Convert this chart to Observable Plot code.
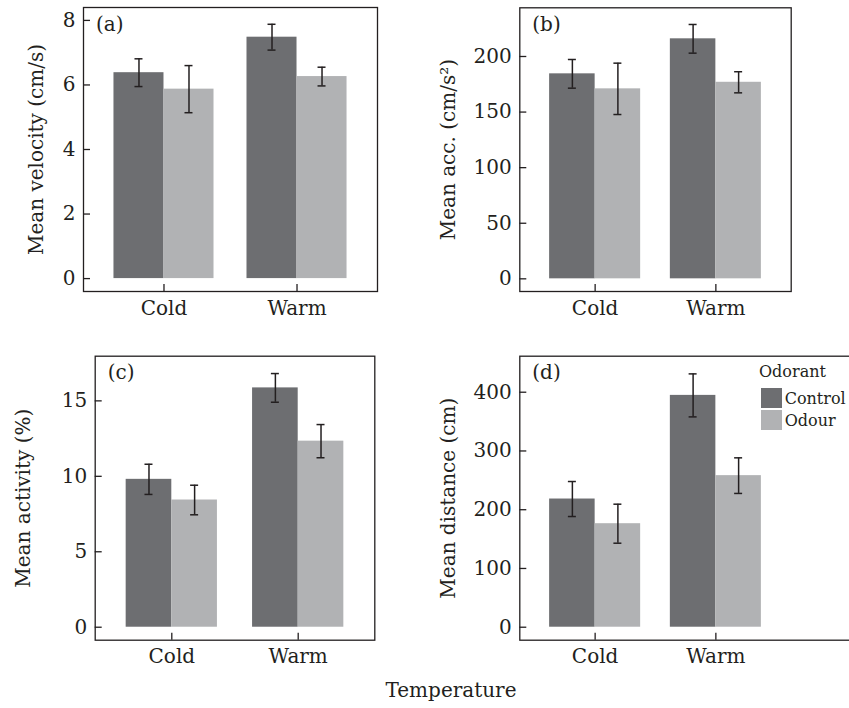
<!DOCTYPE html>
<html>
<head>
<meta charset="utf-8">
<script src="https://cdn.jsdelivr.net/npm/d3@7"></script>
<script src="https://cdn.jsdelivr.net/npm/@observablehq/plot@0.6"></script>
<style>
  html, body { margin: 0; padding: 0; background: #fff; overflow: hidden; width: 849px; height: 708px; }
  #wrap { position: relative; width: 849px; height: 708px; font-family: "DejaVu Serif", serif; color: #231f20; overflow: hidden; }
  .panel { position: absolute; }
  #legend { position: absolute; left: 759px; top: 361.5px; font-size: 16px; line-height: 20px; }
  #legend .row { display: flex; align-items: center; height: 22.3px; }
  #legend .row.first { margin-top: 5px; }
  #legend .row span { position: relative; top: 1px; }
  #legend .sw { width: 20.7px; height: 20px; margin-left: 2px; margin-right: 3px; }
  #caption { position: absolute; left: 351px; width: 200px; top: 677.8px; text-align: center; font-size: 20px; line-height: 24px; }
</style>
</head>
<body>
<div id="wrap"></div>
<script>
// ---- data ----
const temperatures = ["Cold", "Warm"];
const odorants = ["Control", "Odour"];
const odorantColors = ["#6d6e71", "#b1b2b4"];
const legendTitle = "Odorant";
const xTitle = "Temperature";

// order: Cold-Control, Cold-Odour, Warm-Control, Warm-Odour
const velocityMean = [6.38, 5.87, 7.48, 6.26];
const velocitySE   = [0.43, 0.73, 0.40, 0.29];
const velocityTicks = [0, 2, 4, 6, 8];

const accMean = [184.4, 170.9, 215.9, 176.8];
const accSE   = [12.9, 23.1, 12.9, 9.5];
const accTicks = [0, 50, 100, 150, 200];

const activityMean = [9.8, 8.43, 15.86, 12.33];
const activitySE   = [1.0, 0.98, 0.95, 1.1];
const activityTicks = [0, 5, 10, 15];

const distanceMean = [218.2, 176.2, 394.6, 258.0];
const distanceSE   = [29.8, 33.2, 36.6, 30.3];
const distanceTicks = [0, 100, 200, 300, 400];

// ---- panels ----
const ink = "#231f20";
const panels = [
  {letter: "(a)", label: "Mean velocity (cm/s)", means: velocityMean, ses: velocitySE, ticks: velocityTicks, yDomain: [-0.4, 8.4],
   left: 0, top: 0, width: 420, height: 330, mL: 83, mR: 43, mT: 7, mB: 39, pi: 0.248, po: 0.229, labelOffset: 55},
  {letter: "(b)", label: "Mean acc. (cm/s²)", means: accMean, ses: accSE, ticks: accTicks, yDomain: [-11.4, 243.8],
   left: 420, top: 0, width: 429, height: 330, mL: 99.3, mR: 58.3, mT: 7.3, mB: 39, pi: 0.246, po: 0.247, labelOffset: 79.3},
  {letter: "(c)", label: "Mean activity (%)", means: activityMean, ses: activitySE, ticks: activityTicks, yDomain: [-0.86, 17.96],
   left: 0, top: 330, width: 420, height: 340, mL: 94.7, mR: 45.7, mT: 25.7, mB: 30.3, pi: 0.278, po: 0.245, labelOffset: 79.7},
  {letter: "(d)", label: "Mean distance (cm)", means: distanceMean, ses: distanceSE, ticks: distanceTicks, yDomain: [-22.1, 461.3],
   left: 420, top: 330, width: 440, height: 340, mL: 99.3, mR: 5, mT: 25.7, mB: 30.3, pi: 0.246, po: 0.247, labelOffset: 78.6, xRange: [99.3, 370.7]}
];

const wrap = document.getElementById("wrap");

for (const p of panels) {
  const rows = temperatures.flatMap((t, i) => odorants.map((o, j) => {
    const k = i * odorants.length + j;
    return {temperature: t, odorant: o, mean: p.means[k], lo: p.means[k] - p.ses[k], hi: p.means[k] + p.ses[k]};
  }));
  const ctrl = rows.filter(d => d.odorant === odorants[0]);
  const odr = rows.filter(d => d.odorant === odorants[1]);
  const range = p.xRange || [p.mL, p.width - p.mR];
  const step = (range[1] - range[0]) / (temperatures.length - p.pi + 2 * p.po);
  const bw = step * (1 - p.pi);
  const barW = bw / 2;
  const capW = 8;
  const frameW = p.width - p.mL - p.mR;
  const frameH = p.height - p.mT - p.mB;
  const tickLen = 7;
  const sw = 1.5;

  const capMarks = [];
  for (const yk of ["lo", "hi"]) {
    capMarks.push(Plot.tickY(ctrl, {x: "temperature", y: yk, stroke: ink, strokeWidth: sw,
      insetLeft: barW / 2 - capW / 2, insetRight: bw - barW / 2 - capW / 2}));
    capMarks.push(Plot.tickY(odr, {x: "temperature", y: yk, stroke: ink, strokeWidth: sw,
      insetLeft: barW + barW / 2 - capW / 2, insetRight: barW / 2 - capW / 2}));
  }

  const xScale = {domain: temperatures, paddingInner: p.pi, paddingOuter: p.po, align: 0.5, round: false, label: null};
  if (p.xRange) xScale.range = p.xRange;

  const chart = Plot.plot({
    width: p.width, height: p.height,
    marginLeft: p.mL, marginRight: p.mR, marginTop: p.mT, marginBottom: p.mB,
    style: {fontFamily: '"DejaVu Serif", serif', fontSize: "20px", color: ink, background: "transparent", overflow: "visible"},
    x: xScale,
    y: {domain: p.yDomain, label: null},
    color: {domain: odorants, range: odorantColors},
    marks: [
      Plot.barY(ctrl, {x: "temperature", y: "mean", fill: "odorant", insetLeft: 0, insetRight: barW}),
      Plot.barY(odr, {x: "temperature", y: "mean", fill: "odorant", insetLeft: barW, insetRight: 0}),
      Plot.ruleX(ctrl, {x: "temperature", y1: "lo", y2: "hi", dx: -barW / 2, stroke: ink, strokeWidth: sw}),
      Plot.ruleX(odr, {x: "temperature", y1: "lo", y2: "hi", dx: barW / 2, stroke: ink, strokeWidth: sw}),
      ...capMarks,
      Plot.tickY(p.ticks, {y: d => d, stroke: ink, strokeWidth: 1.3, insetRight: frameW - tickLen}),
      Plot.tickX(temperatures, {x: d => d, stroke: ink, strokeWidth: 1.3, insetTop: frameH - tickLen}),
      Plot.axisY(p.ticks, {tickSize: 0, tickPadding: 8, label: p.label, labelAnchor: "center", labelArrow: "none", labelOffset: p.labelOffset}),
      Plot.axisX({tickSize: 0, tickPadding: 9, label: null}),
      Plot.frame({stroke: ink, strokeWidth: 1.3}),
      Plot.text([p.letter], {text: d => d, frameAnchor: "top-left", dx: 12.5, dy: 9, lineAnchor: "top", textAnchor: "start", fill: ink})
    ]
  });
  chart.classList.add("panel");
  chart.style.left = p.left + "px";
  chart.style.top = p.top + "px";
  wrap.appendChild(chart);
}

// legend
const legend = document.createElement("div");
legend.id = "legend";
const title = document.createElement("div");
title.textContent = legendTitle;
legend.appendChild(title);
odorants.forEach((o, i) => {
  const row = document.createElement("div");
  row.className = i === 0 ? "row first" : "row";
  const s = document.createElement("div");
  s.className = "sw";
  s.style.background = odorantColors[i];
  const t = document.createElement("span");
  t.textContent = o;
  row.appendChild(s); row.appendChild(t);
  legend.appendChild(row);
});
wrap.appendChild(legend);

const cap = document.createElement("div");
cap.id = "caption";
cap.textContent = xTitle;
wrap.appendChild(cap);
</script>
</body>
</html>
